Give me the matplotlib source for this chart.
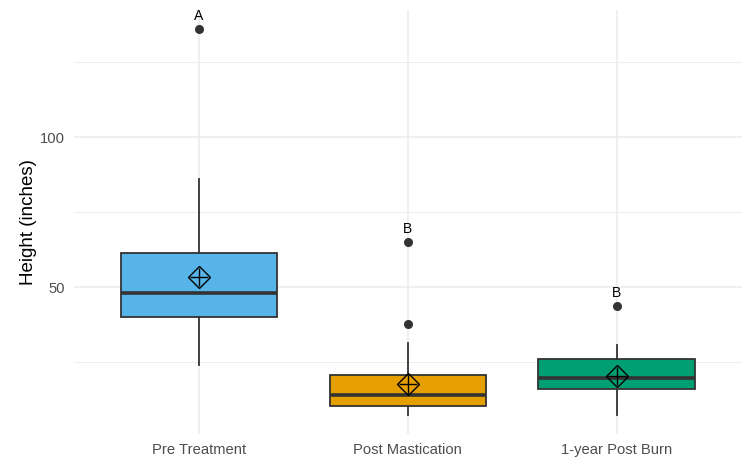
import matplotlib
matplotlib.use("Agg")
import matplotlib.pyplot as plt
from matplotlib.ticker import MultipleLocator

plt.rcParams['font.family'] = ['Liberation Sans', 'DejaVu Sans']

# box statistics
groups = ['Pre Treatment', 'Post Mastication', '1-year Post Burn']
q1 = [40.2, 10.4, 16.2]
med = [48.0, 14.1, 19.7]
q3 = [61.3, 20.8, 26.1]
whislo = [24.1, 7.4, 7.4]
whishi = [86.0, 31.3, 30.7]
means = [53.3, 17.7, 20.4]
fliers = [[136.0], [37.8, 65.0], [43.8]]
letters = ['A', 'B', 'B']
colors = ['#56B4E9', '#E69F00', '#009E73']

fig = plt.figure(figsize=(7.49, 4.59), dpi=100)
ax = fig.add_axes([0.0983, 0.054, 0.8924, 0.924])

stats = []
for i in range(len(groups)):
    stats.append(dict(med=med[i], q1=q1[i], q3=q3[i], whislo=whislo[i],
                      whishi=whishi[i], fliers=fliers[i], mean=means[i]))

pos = [1, 2, 3]
bp = ax.bxp(stats, positions=pos, widths=0.75, patch_artist=True,
            showcaps=False, showmeans=False,
            boxprops=dict(edgecolor='#333333', linewidth=1.3),
            medianprops=dict(color='#333333', linewidth=2.6),
            whiskerprops=dict(color='#333333', linewidth=1.3),
            flierprops=dict(marker='o', markerfacecolor='#333333',
                            markeredgecolor='#333333', markersize=5.5))
for patch, c in zip(bp['boxes'], colors):
    patch.set_facecolor(c)
    patch.set_zorder(3)
for k in ['medians', 'whiskers', 'fliers']:
    for a in bp[k]:
        a.set_zorder(3)

# mean markers (diamond with cross)
ax.plot(pos, means, linestyle='none', marker='D', markersize=11,
        markerfacecolor='none', markeredgecolor='black', markeredgewidth=1.0, zorder=4)
ax.plot(pos, means, linestyle='none', marker='+', markersize=13,
        color='black', markeredgewidth=1.0, zorder=4)

# significance letters above the highest point
for p, f, lab in zip(pos, fliers, letters):
    ax.text(p, max(f) + 3.0, lab, ha='center', va='baseline', fontsize=10, color='black')

ax.set_xlim(0.4, 3.6)
ax.set_ylim(1.0, 142.4)
ax.set_xticks(pos)
ax.set_xticklabels(groups)
ax.yaxis.set_major_locator(MultipleLocator(50))
ax.yaxis.set_minor_locator(MultipleLocator(25))
ax.set_yticks([50, 100])

ax.grid(which='major', color='#EBEBEB', linewidth=1.1)
ax.grid(which='minor', axis='y', color='#EBEBEB', linewidth=0.6)
ax.set_axisbelow(True)
for s in ax.spines.values():
    s.set_visible(False)
ax.tick_params(which='both', length=0, labelsize=10.6, labelcolor='#4D4D4D')
ax.tick_params(axis='x', pad=6.5)
ax.tick_params(axis='y', pad=6.5)
ax.set_ylabel('Height (inches)', fontsize=13.5, labelpad=2)

fig.savefig('out.png', dpi=100)
